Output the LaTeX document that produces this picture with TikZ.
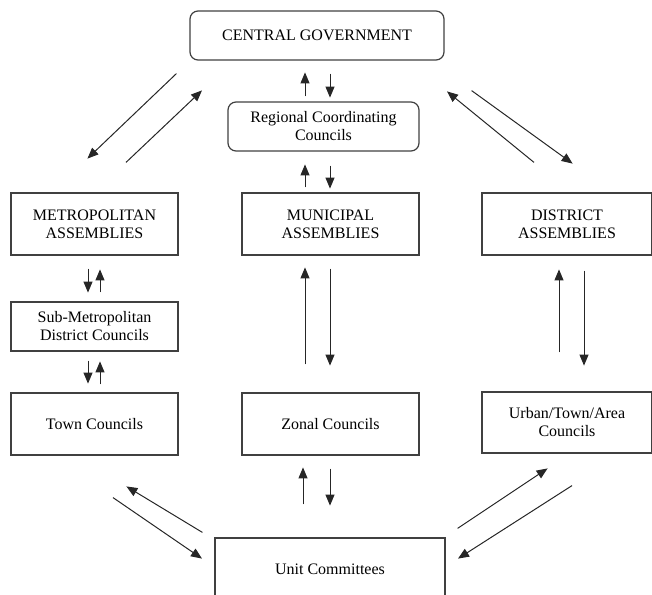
\documentclass[tikz,border=0pt]{standalone}
\usepackage{fontspec}
\setmainfont{Liberation Serif}
\usepackage{tikz}
\usetikzlibrary{calc,arrows.meta,positioning,shapes}
\definecolor{boxgray}{rgb}{0.25,0.25,0.25}
\tikzset{
  govbox/.style={rectangle, rounded corners=8pt, draw=boxgray, line width=1.2pt, align=center, inner sep=0pt,
    font=\fontsize{16}{18}\selectfont},
  unitbox/.style={rectangle, draw=boxgray, line width=1.2pt, align=center, inner sep=0pt,
    font=\fontsize{16}{18}\selectfont},
  line/.style={draw=black!85, line width=1pt, -{Triangle[length=11pt,width=9pt]}}
}

\begin{document}
\begin{tikzpicture}[x=1pt,y=-1pt]
    \useasboundingbox (0,0) rectangle (652,594);

    % top level
    \node[govbox, minimum width=254pt, minimum height=49pt] (cg) at (317,35.5) {CENTRAL GOVERNMENT};
    \node[govbox, minimum width=191pt, minimum height=49pt] (rcc) at (323.5,126.5) {Regional Coordinating\\ Councils};

    % assemblies
    \node[unitbox, minimum width=167pt, minimum height=62pt] (met) at (94.5,224) {METROPOLITAN\\ ASSEMBLIES};
    \node[unitbox, minimum width=177pt, minimum height=62pt] (mun) at (330.5,224) {MUNICIPAL\\ ASSEMBLIES};
    \node[unitbox, minimum width=170pt, minimum height=62pt] (dis) at (567,224) {DISTRICT\\ ASSEMBLIES};

    % lower levels
    \node[unitbox, minimum width=167pt, minimum height=49pt] (sub) at (94.5,326.5) {Sub-Metropolitan\\ District Councils};
    \node[unitbox, minimum width=167pt, minimum height=62pt] (town) at (94.5,424) {Town Councils};
    \node[unitbox, minimum width=177pt, minimum height=62pt] (zon) at (330.5,424) {Zonal Councils};
    \node[unitbox, minimum width=170pt, minimum height=61pt] (urb) at (567,422.5) {Urban/Town/Area\\ Councils};
    \node[unitbox, minimum width=230pt, minimum height=62pt] (unit) at (330,569) {Unit Committees};

    \begin{scope}[every path/.style=line]
      % vertical pairs
      \path ([shift={(-18.5,-5)}]rcc.north) -- ++(0,-24);
      \path ([shift={(13,13)}]cg.south) -- ++(0,24);
      \path ([shift={(-25.5,-5)}]mun.north) -- ++(0,-23);
      \path ([shift={(6.5,14)}]rcc.south) -- ++(0,23);
      \path ([shift={(-6.5,13)}]met.south) -- ++(0,24);
      \path ([shift={(5.5,-9)}]sub.north) -- ++(0,-23);
      \path ([shift={(-6.5,9)}]sub.south) -- ++(0,23);
      \path ([shift={(5.5,-8)}]town.north) -- ++(0,-23);
      \path ([shift={(-25.5,-28)}]zon.north) -- ++(0,-97);
      \path ([shift={(-0.5,13)}]mun.south) -- ++(0,97);
      \path ([shift={(-8,-39)}]urb.north) -- ++(0,-83);
      \path ([shift={(17,15)}]dis.south) -- ++(0,95);
      \path ([shift={(-27,-33)}]unit.north) -- ++(0,-37);
      \path ([shift={(-0.5,13)}]zon.south) -- ++(0,37);

      % diagonal pairs
      \path ([shift={(-13,13)}]cg.south west) -- ++(-89,85);
      \path ([shift={(31.5,-30)}]met.north) -- ++(76,-72);
      \path ([shift={(-33,-30)}]dis.north) -- ++(-87,-71);
      \path ([shift={(27,30)}]cg.south east) -- ++(101,73);
      \path ([shift={(18.5,42)}]town.south) -- ++(89,61);
      \path ([shift={(-12,-5)}]unit.north west) -- ++(-76,-46);
      \path ([shift={(12,-9)}]unit.north east) -- ++(90,-60);
      \path ([shift={(5,32)}]urb.south) -- ++(-114,73);
    \end{scope}
  \end{tikzpicture}
\end{document}
